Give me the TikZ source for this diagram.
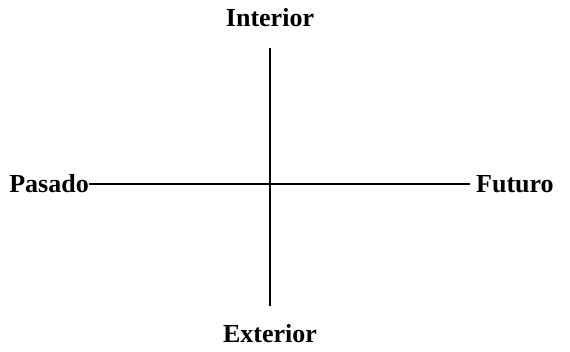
\documentclass[tikz,border=0pt]{standalone}
\usepackage{fontspec}
\setmainfont{Liberation Serif}
\usetikzlibrary{positioning}

\begin{document}
\begin{tikzpicture}[x=1pt, y=-1pt,
    axislabel/.style={font=\bfseries\fontsize{26}{30}\selectfont, inner sep=0pt},
    axisline/.style={line width=1.8pt}]
    \useasboundingbox (0,0) rectangle (570,351);
    % horizontal axis: past to future
    \node[axislabel, anchor=east] (pasado) at (89,184) {Pasado};
    \node[axislabel, anchor=west] (futuro) at (476,184) {Futuro};
    \coordinate (fin) at (470,184);
    \draw[axisline] (pasado.east) -- (fin);
    % vertical axis: inner to outer
    \node[axislabel] (interior) at (270,18) {Interior};
    \node[axislabel] (exterior) at (270,334) {Exterior};
    \coordinate (arriba) at (270,48);
    \coordinate (abajo) at (270,306);
    \draw[axisline] (arriba) -- (abajo);
\end{tikzpicture}
\end{document}
